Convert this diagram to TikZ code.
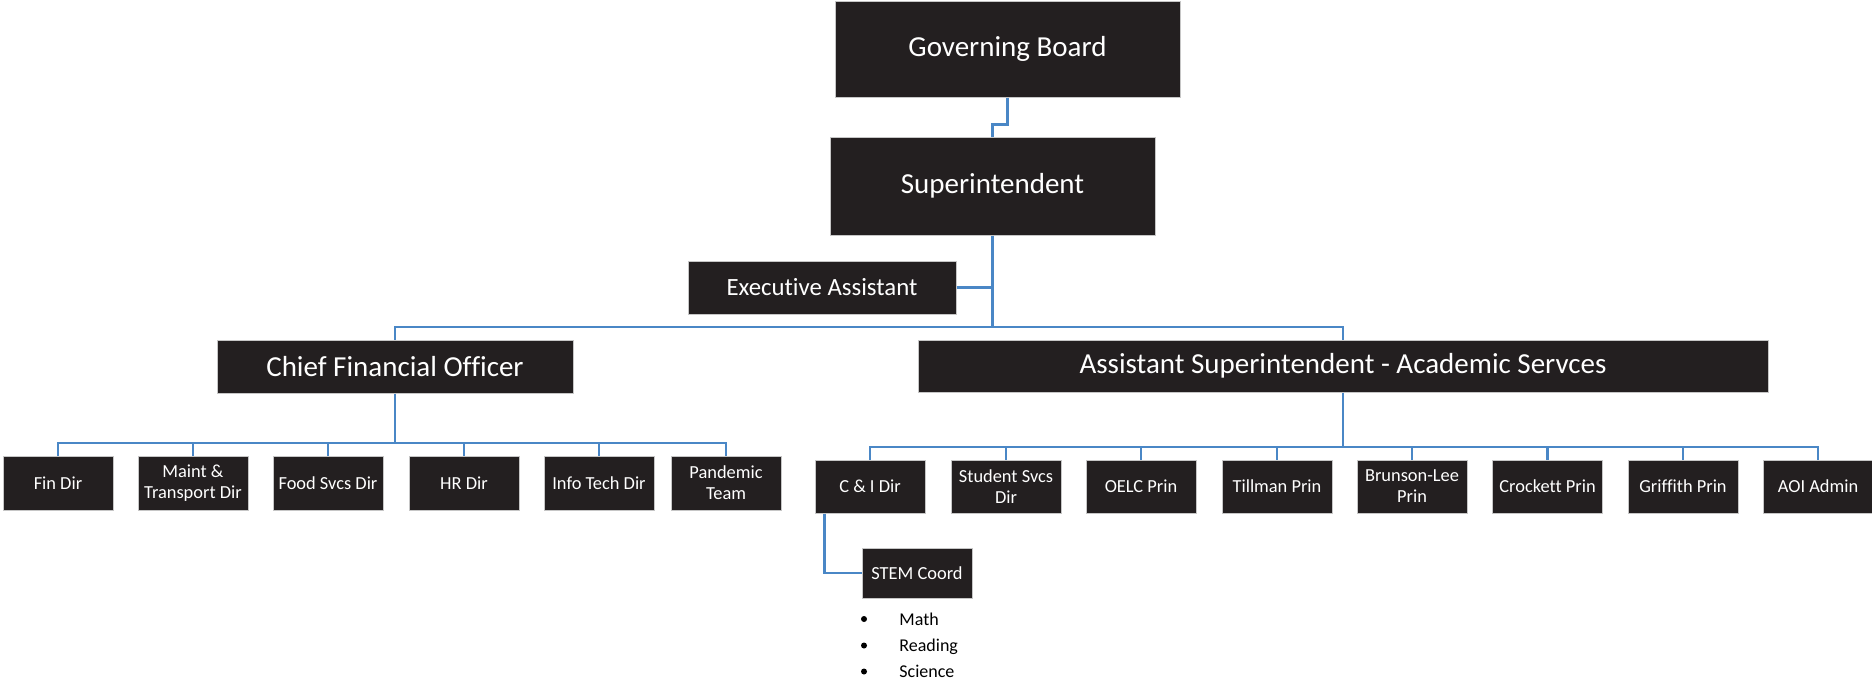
\documentclass[tikz,border=0pt]{standalone}
\usepackage{fontspec}
\setmainfont{Carlito}[Ligatures=NoCommon]
\definecolor{boxfill}{HTML}{231F20}
\definecolor{linkblue}{HTML}{4A87C6}
\tikzset{
    orgbox/.style={draw=gray!45, line width=0.5pt, fill=boxfill, text=white, inner sep=0pt, align=center},
    bigbox/.style={orgbox, font=\fontsize{14.5}{17}\selectfont},
    smallbox/.style={orgbox, minimum width=55pt, minimum height=27pt, font=\fontsize{9.2}{10.5}\selectfont},
    link/.style={draw=linkblue, line width=1.1pt},
    listitem/.style={anchor=base west, inner sep=0pt, font=\fontsize{9}{11}\selectfont}
}
\begin{document}
\begin{tikzpicture}[x=0.5pt,y=-0.5pt]
            \useasboundingbox (0,0) rectangle (1872,682);
            % top of the chart
            \node [bigbox, minimum width=172.5pt, minimum height=48pt] (board) at (1007.5,49) {Governing Board};
            \node [bigbox, minimum width=162.5pt, minimum height=49pt] (supt) at (992.5,186) {Superintendent};
            \node [orgbox, minimum width=134pt, minimum height=26.5pt, font=\fontsize{12.4}{15}\selectfont] (exec) at (822,287.5) {Executive Assistant};
            \node [bigbox, minimum width=178pt, minimum height=26.5pt] (cfo) at (395,366.5) {Chief Financial Officer};
            \node [bigbox, minimum width=425pt, minimum height=26pt] (asst) at (1343,366) {Assistant Superintendent - Academic Servces};
            \coordinate (split) at (992.5,327);
            \draw [link] (board.south) -- ++(0,27) -| (supt.north);
            \draw [link] (supt.south) -- (split);
            \draw [link] (exec.east) -- (exec.east -| split);
            \draw [link] (cfo.north) |- (split) -| (asst.north);
            % finance side
            \node [smallbox] (fin) at (58,483) {Fin Dir};
            \node [smallbox] (maint) at (193,483) {Maint \&\\Transport Dir};
            \node [smallbox] (food) at (328,483) {Food Svcs Dir};
            \node [smallbox] (hr) at (464,483) {HR Dir};
            \node [smallbox] (it) at (599,483) {Info Tech Dir};
            \node [smallbox] (pandemic) at (726,483) {Pandemic\\Team};
            \coordinate (cfobus) at (395,443);
            \draw [link] (cfo.south) -- (cfobus);
            \draw [link] (fin.north) |- (cfobus);
            \draw [link] (maint.north) |- (cfobus);
            \draw [link] (food.north) |- (cfobus);
            \draw [link] (hr.north) |- (cfobus);
            \draw [link] (it.north) |- (cfobus);
            \draw [link] (pandemic.north) |- (cfobus);
            % academic side
            \node [smallbox, minimum height=26.5pt] (ci) at (870,486.5) {C \& I Dir};
            \node [smallbox, minimum height=26.5pt] (studsvcs) at (1006,486.5) {Student Svcs\\Dir};
            \node [smallbox, minimum height=26.5pt] (oelc) at (1141,486.5) {OELC Prin};
            \node [smallbox, minimum height=26.5pt] (tillman) at (1277,486.5) {Tillman Prin};
            \node [smallbox, minimum height=26.5pt] (brunson) at (1412,486.5) {Brunson-Lee\\Prin};
            \node [smallbox, minimum height=26.5pt] (crockett) at (1547.5,486.5) {Crockett Prin};
            \node [smallbox, minimum height=26.5pt] (griffith) at (1683,486.5) {Griffith Prin};
            \node [smallbox, minimum height=26.5pt] (aoi) at (1818,486.5) {AOI Admin};
            \coordinate (asstbus) at (1343,447);
            \draw [link] (asst.south) -- (asstbus);
            \draw [link] (ci.north) |- (asstbus);
            \draw [link] (studsvcs.north) |- (asstbus);
            \draw [link] (oelc.north) |- (asstbus);
            \draw [link] (tillman.north) |- (asstbus);
            \draw [link] (brunson.north) |- (asstbus);
            \draw [link] (crockett.north) |- (asstbus);
            \draw [link] (griffith.north) |- (asstbus);
            \draw [link] (aoi.north) |- (asstbus);
            % STEM coordinator and its subjects
            \node [smallbox, minimum height=25pt] (stem) at (917,573) {STEM Coord};
            \draw [link] (ci.south west) ++(10,0) |- (stem.west);
            \node [listitem] (math) at (899,625) {Math};
            \node [listitem] (reading) at (899,651.5) {Reading};
            \node [listitem] (science) at (899,677.5) {Science};
            \fill (864,619) circle (1.5pt);
            \fill (864,645.5) circle (1.5pt);
            \fill (864,671.5) circle (1.5pt);
        \end{tikzpicture}
\end{document}
